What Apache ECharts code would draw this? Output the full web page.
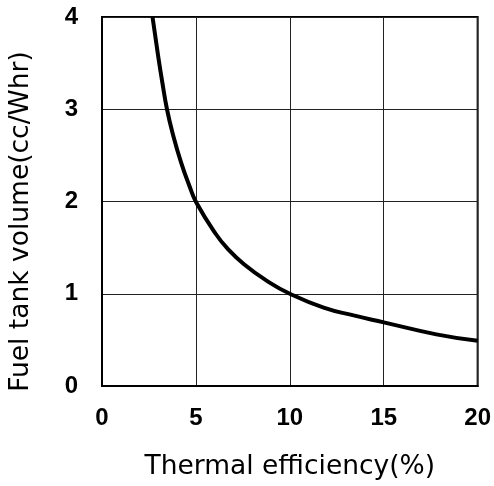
<!DOCTYPE html>
<html>
<head>
<meta charset="utf-8">
<script src="https://cdn.jsdelivr.net/npm/echarts@6/dist/echarts.min.js"></script>
<style>html,body{margin:0;padding:0;background:#fff;}#c{width:494px;height:486px;}</style>
</head>
<body>
<div id="c"></div>
<script>
// Data
var efficiency = [2.69, 2.98, 3.22, 3.46, 3.76, 4.2, 4.67, 5.02, 6.07, 6.68, 7.56, 8.78, 10.0, 11.8, 13.4, 15.0, 17.8, 20.0];
var volume     = [4.0, 3.59, 3.28, 3.0, 2.74, 2.43, 2.16, 1.99, 1.645, 1.49, 1.32, 1.14, 1.0, 0.85, 0.765, 0.69, 0.56, 0.49];
var xTicks = [0, 5, 10, 15, 20];
var yTicks = [0, 1, 2, 3, 4];
var xTitle = 'Thermal efficiency(%)';
var yTitle = 'Fuel tank volume(cc/Whr)';

var pts = efficiency.map(function (x, i) { return [x, volume[i]]; });
var chart = echarts.init(document.getElementById('c'), null, {renderer: 'canvas'});
chart.setOption({
  animation: false,
  backgroundColor: '#fff',
  grid: {left: 102, right: 12, top: 17, bottom: 99, show: true, borderColor: '#000', borderWidth: 2, backgroundColor: 'transparent'},
  xAxis: {
    type: 'value', min: xTicks[0], max: xTicks[xTicks.length - 1], interval: 5,
    name: xTitle, nameLocation: 'middle', nameGap: 68,
    nameTextStyle: {fontFamily: 'DejaVu Sans', fontSize: 26.5, color: '#000'},
    axisLine: {show: true, lineStyle: {color: '#000', width: 2}},
    axisTick: {show: false},
    axisLabel: {margin: 20, fontFamily: 'Liberation Sans', fontWeight: 'bold', fontSize: 24, color: '#000'},
    splitLine: {show: true, lineStyle: {color: '#222', width: 1}}
  },
  yAxis: {
    type: 'value', min: yTicks[0], max: yTicks[yTicks.length - 1], interval: 1,
    name: yTitle, nameLocation: 'middle', nameGap: 67,
    nameTextStyle: {fontFamily: 'DejaVu Sans', fontSize: 26.5, color: '#000', padding: [0, 40, 0, 0]},
    axisLine: {show: true, lineStyle: {color: '#000', width: 2}},
    axisTick: {show: false},
    axisLabel: {margin: 24, fontFamily: 'Liberation Sans', fontWeight: 'bold', fontSize: 24, color: '#000'},
    splitLine: {show: true, lineStyle: {color: '#222', width: 1}}
  },
  series: [{
    type: 'line', data: pts, smooth: 0.5, showSymbol: false, symbol: 'none',
    lineStyle: {color: '#000', width: 4}
  }]
});
</script>
</body>
</html>
